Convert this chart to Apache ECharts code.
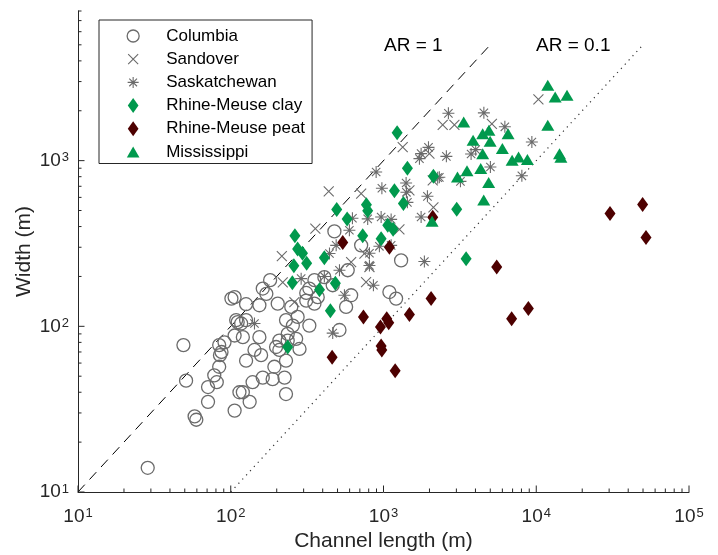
<!DOCTYPE html>
<html><head><meta charset="utf-8">
<script src="https://cdn.jsdelivr.net/npm/echarts@6/dist/echarts.min.js"></script>
<style>html,body{margin:0;padding:0;background:#fff}#c{width:718px;height:555px}</style>
</head><body><div id="c"></div>
<script>
// ---- data (channel length L [m], width W [m]) ----
const columbia = [[28.6,14],[49,77],[51,47],[58,28.6],[59.5,27.3],[71,43],[71,35],[78,50.6],[81,46],[84,57],[85,67],[87,70],[84,77],[91,80],[101,147],[106,150],[111,106],[106,88],[106,31],[114,40],[120,86],[108.5,109],[126,109],[117,104],[126,136],[154,134],[171,157],[203,137],[249,131],[312,143],[353,137],[371,150],[154,86],[230,109],[274,114],[255,101],[327,101],[236,90],[208,82],[236,82],[268,84],[198,75],[208,72],[282,73],[126,62],[143,72],[158,67],[230,62],[193,57],[225,49],[162,49],[188,48],[139,46],[120,40],[133,35],[230,39],[181,190],[162,169],[353,190],[327,169],[477,374],[714,308],[583,218],[614,154],[569,131],[1093,161],[1209,147],[1304,250],[515,95],[312,159],[410,198],[465,177]];
const sandover = [[438,653],[358,389],[216,265],[219,184],[10330,2344],[2441,1644],[2912,1644],[5123,1668],[1336,1208],[1998,1102],[2100,760],[714,632],[809,228],[2122,523],[1271,385],[614,244],[769,185],[750,275],[261,140],[1478,662]];
const saskatchewan = [[2660,1930],[4540,1943],[6230,1600],[9360,1295],[8050,810],[1970,1203],[1763,1102],[1719,1028],[2580,1061],[3745,1096],[4013,1165],[5010,915],[3190,750],[2263,789],[895,854],[976,681],[1406,733],[1413,644],[1434,560],[1939,609],[1763,457],[965,457],[1122,442],[788,445],[626,449],[598,380],[940,304],[1122,308],[809,276],[809,233],[859,177],[555,154],[1852,246],[490,308],[443,275],[515,218],[410,200],[289,194],[143,104],[465,91],[2320,793]];
const rmClay = [[494,507],[578,445],[263,352],[274,293],[295,276],[410,259],[259,232],[314,240],[253,183],[381,166],[484,182],[449,124],[236,75],[1228,1472],[1434,898],[2122,804],[1179,657],[1350,552],[773,541],[788,498],[1066,407],[1156,386],[731,352],[965,338],[3015,508],[3474,256]];
const rmPeat = [[541,321],[1093,300],[2049,147],[739,114],[1050,111],[1082,105],[955,99],[1478,118],[965,76],[975,72],[1192,54],[6900,111],[8880,128],[5510,228],[2100,455],[30400,479],[49700,543],[52300,343],[461,65]];
const mississippi = [[11900,2850],[13300,2420],[15900,2480],[11900,1633],[3350,1710],[4460,1455],[4900,1524],[3860,1326],[4990,1308],[6540,1455],[6000,1182],[4460,1102],[6950,1004],[7660,1051],[8750,1015],[4330,895],[3520,870],[3050,796],[4880,738],[4530,578],[14200,1099],[14500,1047],[2080,430]];
// reference lines W = AR * L
const lineAR1 = [[10,10],[5000,5000]];
const lineAR01 = [[100,10],[50000,5000]];
// axes
const xMin = 10, xMax = 100000, yMin = 10, yMax = 8000;
const xMajorTicks = [10,100,1000,10000,100000];
const yMajorTicks = [10,100,1000];
const minorMult = [2,3,4,5,6,7,8,9];
const xMinorTicks = [], yMinorTicks = [];
[10,100,1000,10000].forEach(d => minorMult.forEach(m => xMinorTicks.push(d*m)));
[10,100,1000].forEach(d => minorMult.forEach(m => { if (d*m <= yMax) yMinorTicks.push(d*m); }));

const FONT = 'Liberation Sans, Arial, Helvetica, sans-serif';
const AX = '#262626';
const GRAY = '#6b6b6b';
const GREEN = '#00994d';
const DARKRED = '#4d0000';

// marker shapes
const SYM_CROSS = 'path://M0,0L10,10M10,0L0,10';
const SYM_AST = 'path://M5,0L5,10M0,5L10,5M1.5,1.5L8.5,8.5M8.5,1.5L1.5,8.5';
const SYM_DIAM = 'path://M5,0L10,7L5,14L0,7Z';
const SYM_TRI = 'path://M6,0L12,10.4L0,10.4Z';
// legend icons (with invisible margins so that they keep the marker sizes)
const LEG_CIRC = 'path://M-1.5,-1.5M13.5,13.5M0,6A6,6,0,1,1,12,6A6,6,0,1,1,0,6Z';
const LEG_CROSS = 'path://M-2.5,-2.5M12.5,12.5M0,0L10,10M10,0L0,10';
const LEG_AST = 'path://M-1.8,-1.8M11.8,11.8M5,0L5,10M0,5L10,5M1.5,1.5L8.5,8.5M8.5,1.5L1.5,8.5';
const LEG_DIAM = 'path://M5,0L10,7L5,14L0,7Z';
const LEG_TRI = 'path://M-1.1,-1.9M13.1,12.3M6,0L12,10.4L0,10.4Z';

function powLabel(v) {
  const e = Math.log10(v);
  const r = Math.round(e);
  if (Math.abs(e - r) > 1e-6) return '';
  return '{b|10}{s|' + r + '}';
}
const richLab = {
  b: {fontSize: 19, fontFamily: FONT, color: AX},
  s: {fontSize: 13, fontFamily: FONT, color: AX, verticalAlign: 'top', padding: [0,0,0,1]}
};

function tickSeries(data, isX, len) {
  return {
    type: 'custom', silent: true, z: 5, data: data,
    renderItem: function (params, api) {
      const p = api.coord([api.value(0), api.value(1)]);
      const shape = isX ? {x1: p[0], y1: p[1], x2: p[0], y2: p[1] - len}
                        : {x1: p[0], y1: p[1], x2: p[0] + len, y2: p[1]};
      return {type: 'line', shape: shape, style: {stroke: AX, lineWidth: 1}};
    }
  };
}

const chart = echarts.init(document.getElementById('c'), null, {renderer: 'canvas'});
chart.setOption({
  animation: false,
  backgroundColor: '#fff',
  grid: {left: 78, right: 29, top: 11, bottom: 63, outerBoundsMode: 'none', containLabel: false},
  xAxis: {
    type: 'log', logBase: 10, min: xMin, max: xMax,
    name: 'Channel length (m)', nameLocation: 'middle', nameGap: 39, nameMoveOverlap: false,
    nameTextStyle: {fontSize: 21, fontFamily: FONT, color: AX},
    axisLine: {show: true, lineStyle: {color: AX, width: 1}},
    axisTick: {show: false},
    splitLine: {show: false}, minorTick: {show: false}, minorSplitLine: {show: false},
    axisLabel: {margin: 15, formatter: powLabel, rich: richLab, showMinLabel: true, showMaxLabel: true}
  },
  yAxis: {
    type: 'log', logBase: 10, min: yMin, max: yMax,
    name: 'Width (m)', nameLocation: 'middle', nameGap: 43, nameMoveOverlap: false,
    nameTextStyle: {fontSize: 21, fontFamily: FONT, color: AX},
    axisLine: {show: true, lineStyle: {color: AX, width: 1}},
    axisTick: {show: false},
    splitLine: {show: false}, minorTick: {show: false}, minorSplitLine: {show: false},
    axisLabel: {margin: 9, formatter: powLabel, rich: richLab, showMinLabel: true}
  },
  legend: {
    orient: 'vertical', left: 99, top: 20,
    padding: [7.5, 7, 3, 26],
    itemWidth: 56, itemHeight: 15, itemGap: 6.2,
    backgroundColor: '#fff', borderColor: AX, borderWidth: 1, borderRadius: 0,
    textStyle: {fontSize: 17, fontFamily: FONT, color: '#000', lineHeight: 17},
    selectedMode: false,
    data: [
      {name: 'Columbia', icon: LEG_CIRC, itemStyle: {color: 'rgba(0,0,0,0)', borderColor: GRAY, borderWidth: 1.3, opacity: 1}},
      {name: 'Sandover', icon: LEG_CROSS, itemStyle: {color: 'rgba(0,0,0,0)', borderColor: GRAY, borderWidth: 1.1, opacity: 1}},
      {name: 'Saskatchewan', icon: LEG_AST, itemStyle: {color: 'rgba(0,0,0,0)', borderColor: GRAY, borderWidth: 1.1, opacity: 1}},
      {name: 'Rhine-Meuse clay', icon: LEG_DIAM, itemStyle: {color: GREEN, borderWidth: 0, opacity: 1}},
      {name: 'Rhine-Meuse peat', icon: LEG_DIAM, itemStyle: {color: DARKRED, borderWidth: 0, opacity: 1}},
      {name: 'Mississippi', icon: LEG_TRI, itemStyle: {color: GREEN, borderWidth: 0, opacity: 1}}
    ]
  },
  graphic: [
    {type: 'text', left: 384, top: 36, silent: true, style: {text: 'AR = 1', font: '19px ' + FONT, fill: '#000'}},
    {type: 'text', left: 536, top: 36, silent: true, style: {text: 'AR = 0.1', font: '19px ' + FONT, fill: '#000'}}
  ],
  series: [
    {name: 'AR1', type: 'line', data: lineAR1, symbol: 'none', silent: true, z: 1,
     lineStyle: {color: '#000', width: 1, type: [10, 7]}},
    {name: 'AR01', type: 'line', data: lineAR01, symbol: 'none', silent: true, z: 1,
     lineStyle: {color: '#333', width: 1.2, type: [1.2, 4.5]}},
    {name: 'Columbia', type: 'scatter', data: columbia, symbol: 'circle', symbolSize: 13, z: 2,
     itemStyle: {color: 'rgba(0,0,0,0)', borderColor: GRAY, borderWidth: 1.3, opacity: 1}},
    {name: 'Sandover', type: 'scatter', data: sandover, symbol: SYM_CROSS, symbolSize: 10, z: 2,
     itemStyle: {color: 'rgba(0,0,0,0)', borderColor: GRAY, borderWidth: 1.1, opacity: 1}},
    {name: 'Saskatchewan', type: 'scatter', data: saskatchewan, symbol: SYM_AST, symbolSize: 12, z: 2,
     itemStyle: {color: 'rgba(0,0,0,0)', borderColor: GRAY, borderWidth: 1.1, opacity: 1}},
    {name: 'Rhine-Meuse clay', type: 'scatter', data: rmClay, symbol: SYM_DIAM, symbolSize: [11, 15], symbolKeepAspect: false, z: 2,
     itemStyle: {color: GREEN, opacity: 1}},
    {name: 'Rhine-Meuse peat', type: 'scatter', data: rmPeat, symbol: SYM_DIAM, symbolSize: [11, 15], symbolKeepAspect: false, z: 2,
     itemStyle: {color: DARKRED, opacity: 1}},
    {name: 'Mississippi', type: 'scatter', data: mississippi, symbol: SYM_TRI, symbolSize: [13, 11], symbolKeepAspect: false, z: 2,
     itemStyle: {color: GREEN, opacity: 1}},
    tickSeries(xMajorTicks.map(v => [v, yMin]), true, 6.5),
    tickSeries(xMinorTicks.map(v => [v, yMin]), true, 3.5),
    tickSeries(yMajorTicks.map(v => [xMin, v]), false, 6.5),
    tickSeries(yMinorTicks.map(v => [xMin, v]), false, 3.5)
  ]
});
</script></body></html>
